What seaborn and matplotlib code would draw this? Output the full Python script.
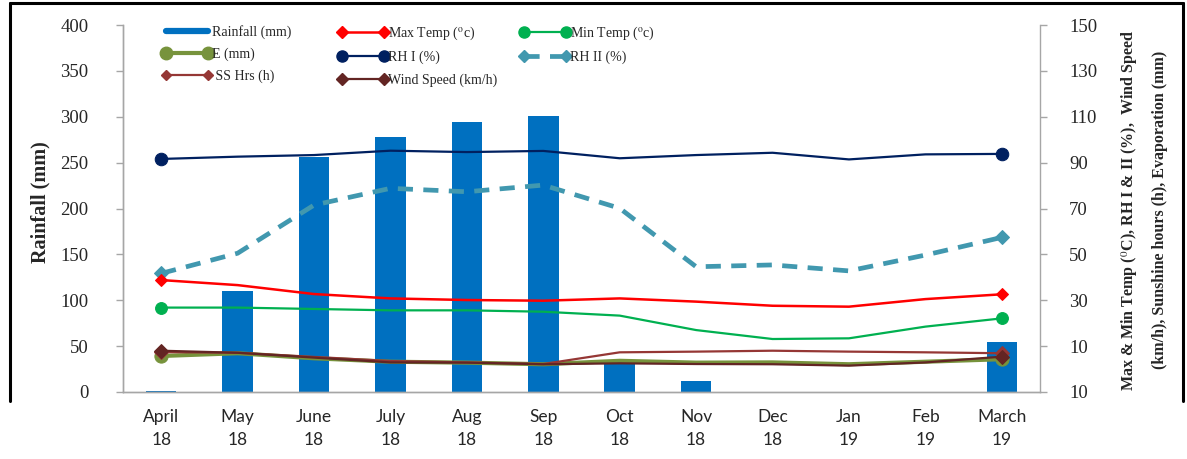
import numpy as np
import matplotlib
matplotlib.use("Agg")
import matplotlib.pyplot as plt
from matplotlib.lines import Line2D
from matplotlib.legend import Legend
import seaborn as sns

months = ["April\n18", "May\n18", "June\n18", "July\n18", "Aug\n18", "Sep\n18",
          "Oct\n18", "Nov\n18", "Dec\n18", "Jan\n19", "Feb\n19", "March\n19"]
rainfall = [1, 110, 256, 278, 294, 301, 35, 12.5, 0, 0, 0, 55]
rh1 = [91.6, 92.6, 93.3, 95.2, 94.6, 95.1, 91.9, 93.3, 94.3, 91.4, 93.6, 93.8]
rh2 = [41.7, 50.5, 71.5, 78.8, 77.3, 80.2, 70.1, 44.6, 45.4, 42.8, 49.7, 57.4]
tmax = [38.8, 36.6, 32.7, 30.8, 30.1, 29.8, 30.8, 29.4, 27.6, 27.2, 30.5, 32.6]
tmin = [26.8, 26.8, 26.2, 25.6, 25.6, 25.0, 23.3, 17.0, 13.1, 13.4, 18.5, 22.1]
evap = [5.7, 6.9, 4.7, 3.2, 2.8, 2.1, 3.6, 2.8, 2.9, 2.1, 3.2, 4.3]
sshrs = [7.4, 7.1, 5.3, 3.5, 2.9, 2.2, 7.3, 7.6, 8.0, 7.6, 7.3, 6.9]
wind = [8.0, 7.1, 5.0, 2.9, 2.8, 2.1, 2.5, 2.2, 2.1, 1.5, 2.9, 5.4]

left_ticks = [0, 50, 100, 150, 200, 250, 300, 350, 400]
right_ticks = [-10, 10, 30, 50, 70, 90, 110, 130, 150]
right_tick_labels = ["10", "10", "30", "50", "70", "90", "110", "130", "150"]

sns.set_style("white")
plt.rcParams["font.family"] = ["Liberation Serif", "DejaVu Serif"]
plt.rcParams["mathtext.fontset"] = "stix"

W, H = 1187, 459
fig = plt.figure(figsize=(W / 100, H / 100), dpi=100)
ax = fig.add_axes([123 / W, 1 - 392 / H, (1040 - 123) / W, (392 - 25) / H])

idx = np.arange(len(months))
sns.barplot(x=months, y=rainfall, ax=ax, color="#0070C0", width=0.4,
            saturation=1, edgecolor="none", zorder=2)

ax2 = ax.twinx()
series = [
    (rh1, "#002060", 1.6, "o", 9, "-"),
    (rh2, "#4198AF", 3.4, "D", 7.5, (0, (3.2, 2.2))),
    (tmax, "#FF0000", 1.8, "D", 6.5, "-"),
    (tmin, "#00B050", 1.6, "o", 8.5, "-"),
    (evap, "#77933C", 3.0, "o", 9.5, "-"),
    (sshrs, "#953735", 1.6, "D", 7, "-"),
    (wind, "#632523", 1.6, "D", 7, "-"),
]
for vals, col, lw, mk, ms, ls in series:
    sns.lineplot(x=idx, y=vals, ax=ax2, color=col, lw=lw, marker=mk, ms=ms,
                 markevery=[0, len(vals) - 1], markeredgecolor=col,
                 linestyle=ls)

ax.set_xlim(-0.5, 11.5)
ax.set_ylim(0, 400)
ax.set_yticks(left_ticks)
ax2.set_ylim(-10, 150)
ax2.set_yticks(right_ticks, right_tick_labels)

ax.set_xticks(idx, months, fontfamily="Lato", fontsize=12.5, linespacing=1.55)
ax.set_xticks(np.arange(-0.5, 12, 1), minor=True)
ax.tick_params(axis="x", which="major", length=0, pad=12)
ax.tick_params(axis="x", which="minor", length=4, color="#A6A6A6", width=1)
ax.tick_params(axis="y", length=5, color="#A6A6A6", width=1, pad=20,
               labelsize=13.5, left=True)
ax2.tick_params(axis="y", length=5, color="#A6A6A6", width=1, pad=16,
                labelsize=13.5, right=True)
ax.set_xlabel("")
ax.set_ylabel("")
ax2.set_ylabel("")

for a in (ax, ax2):
    a.spines["top"].set_visible(False)
    for s in ("left", "right", "bottom"):
        a.spines[s].set_color("#A6A6A6")
        a.spines[s].set_linewidth(1)
ax.spines["right"].set_visible(False)

fig.text(40 / W, 1 - 202 / H, "Rainfall (mm)", rotation=90, ha="center",
         va="center", fontsize=14.5, fontweight="bold")
fig.text(1130 / W, 1 - 210 / H,
         r"Max & Min Temp ($^{0}$C), RH I & II (%),  Wind Speed",
         rotation=90, ha="center", va="center", fontsize=11.5, fontweight="bold")
fig.text(1160 / W, 1 - 210 / H,
         "(km/h), Sunshine hours (h), Evaporation (mm)",
         rotation=90, ha="center", va="center", fontsize=11.5, fontweight="bold")


def mk_handle(col, lw, marker=None, ms=0, ls="-"):
    return Line2D([], [], color=col, lw=lw, marker=marker, ms=ms, ls=ls,
                  markeredgecolor=col)


columns = [
    (162, [(mk_handle("#0070C0", 4.5), "Rainfall (mm)"),
           (mk_handle("#77933C", 3, "o", 9), "E (mm)"),
           (mk_handle("#953735", 1.6, "D", 5.5), " SS Hrs (h)")]),
    (338, [(mk_handle("#FF0000", 1.8, "D", 6), r"Max Temp ($^{\rm o}$c)"),
           (mk_handle("#002060", 1.6, "o", 8), "RH I (%)"),
           (mk_handle("#632523", 1.6, "D", 6), "Wind Speed (km/h)")]),
    (520, [(mk_handle("#00B050", 1.6, "o", 8), r"Min Temp ($^{\rm o}$c)"),
           (mk_handle("#4198AF", 3.4, "D", 6, (0, (3.2, 2.2))), "RH II (%)")]),
]
for x0, items in columns:
    hs = [h for h, _ in items]
    ls_ = [l for _, l in items]
    leg = Legend(ax2, hs, ls_, loc="upper left",
                 bbox_to_anchor=((x0 - 123) / 917, 1.0), frameon=False,
                 fontsize=10, handlelength=3.6, handletextpad=0.0,
                 labelspacing=0.62, borderpad=0, borderaxespad=0,
                 numpoints=2)
    ax2.add_artist(leg)

# outer black frame (open at bottom)
for xs, ys in [((10, 10), (3, 401)), ((10, 1183), (3, 3)), ((1183, 1183), (3, 401))]:
    fig.add_artist(Line2D([x / W for x in xs], [1 - y / H for y in ys],
                          transform=fig.transFigure, color="black", lw=2.2))

fig.savefig("out.png", dpi=100)
